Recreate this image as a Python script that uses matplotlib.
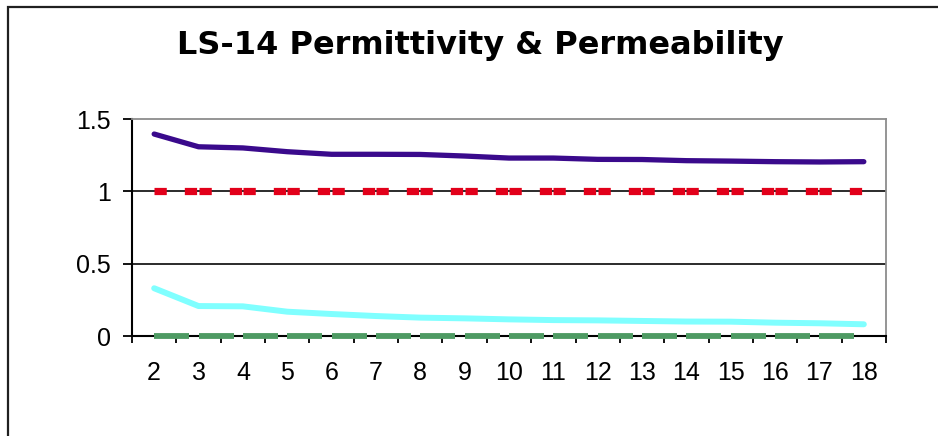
import numpy as np
import matplotlib
matplotlib.use("Agg")
import matplotlib.pyplot as plt
from matplotlib.patches import Rectangle

# Datos
categorias = [str(c) for c in range(2, 19)]
permitividad_real = [1.396, 1.308, 1.300, 1.274, 1.256, 1.256, 1.255, 1.244, 1.230,
                     1.230, 1.221, 1.220, 1.212, 1.209, 1.205, 1.203, 1.205]
permitividad_imag = [0.330, 0.207, 0.205, 0.168, 0.152, 0.138, 0.127, 0.122, 0.115,
                     0.110, 0.108, 0.104, 0.100, 0.099, 0.092, 0.088, 0.081]
permeabilidad_real = [1.0] * 17
permeabilidad_imag = [0.0] * 17

y_ticks = [0, 0.5, 1, 1.5]
y_labels = ["0", "0.5", "1", "1.5"]

W, H = 938, 436
fig = plt.figure(figsize=(W / 100, H / 100), dpi=100)
fig.patch.set_facecolor("white")

# Marco exterior (cortado a la derecha y abajo)
fig.patches.append(Rectangle((8 / W, -0.2), 1.5, 1.2 - 7 / H, transform=fig.transFigure,
                             fill=False, edgecolor="#202020", linewidth=1.6))

ax = fig.add_axes([132 / W, 1 - 336 / H, 754 / W, 217 / H])
x = np.arange(len(categorias))

ax.set_xlim(-0.5, len(categorias) - 0.5)
ax.set_ylim(0, 1.5)

# Líneas de cuadrícula
for yv in [0.5, 1.0]:
    ax.axhline(yv, color="#1a1a1a", linewidth=1.3, zorder=1)

# Series: cada tramo se dibuja por separado para que el patrón de trazos
# empiece de nuevo en cada punto, como en Excel
for i in range(len(x) - 1):
    ax.plot(x[i:i + 2], permeabilidad_real[i:i + 2], color="#E2001A", linewidth=5.2,
            dashes=(1.7, 2.5), dash_capstyle="butt", zorder=3)
    ax.plot(x[i:i + 2], permeabilidad_imag[i:i + 2], color="#4E9A63", linewidth=4.2,
            dashes=(6.0, 3), dash_capstyle="butt", zorder=3, clip_on=False)

ax.plot(x, permitividad_real, color="#3A0A8C", linewidth=3.8,
        solid_capstyle="round", solid_joinstyle="round", zorder=4)
ax.plot(x, permitividad_imag, color="#80FFFF", linewidth=4.3,
        solid_capstyle="round", solid_joinstyle="round", zorder=4)

# Ejes
ax.spines["left"].set_color("black")
ax.spines["left"].set_linewidth(1.5)
ax.spines["bottom"].set_color("black")
ax.spines["bottom"].set_linewidth(1.5)
ax.spines["top"].set_color("#8c8c8c")
ax.spines["top"].set_linewidth(1.3)
ax.spines["right"].set_color("#8c8c8c")
ax.spines["right"].set_linewidth(1.3)

ax.set_yticks(y_ticks)
ax.set_yticklabels(y_labels, fontfamily="Liberation Sans", fontsize=18)
ax.tick_params(axis="y", direction="out", length=6.5, width=1.3, pad=8.5, colors="black")

ax.set_xticks(x)
ax.set_xticklabels(categorias, fontfamily="Liberation Sans", fontsize=18)
ax.set_xticks(np.arange(-0.5, len(categorias)), minor=True)
ax.tick_params(axis="x", which="major", length=0, pad=18)
ax.tick_params(axis="x", which="minor", direction="out", length=5, width=1.3)

fig.text(480 / W, 1 - 54 / H, "LS-14 Permittivity & Permeability", ha="center",
         va="baseline", fontfamily="DejaVu Sans", fontweight="bold", fontsize=23)

fig.savefig("out.png", dpi=100)
